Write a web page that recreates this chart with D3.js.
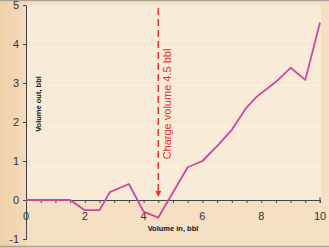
<!DOCTYPE html>
<html><head><meta charset="utf-8">
<script src="https://cdn.jsdelivr.net/npm/d3@7"></script>
<style>html,body{margin:0;padding:0;background:#f5e1c6;}svg{display:block;}</style>
</head><body>
<script>
const volumeIn  = [0, 1.5, 2.0, 2.5, 2.85, 3.5, 4.0, 4.5, 5.5, 6.0, 6.5, 7.0, 7.5, 7.85, 8.5, 9.0, 9.5, 10.0];
const volumeOut = [0, 0, -0.26, -0.26, 0.2, 0.41, -0.3, -0.45, 0.84, 1.0, 1.38, 1.8, 2.37, 2.65, 3.03, 3.39, 3.08, 4.55];
const xTicks = [0, 2, 4, 6, 8, 10];
const yTicks = [-1, 0, 1, 2, 3, 4, 5];
const chargeVolume = 4.5;
const chargeLabel = "Charge volume 4.5 bbl";
const xLabel = "Volume in, bbl";
const yLabel = "Volume out, bbl";

const W = 329, H = 248;
const svg = d3.select("body").append("svg").attr("width", W).attr("height", H);
const x = d3.scaleLinear().domain([0, 10]).range([26, 320]);
const y = d3.scaleLinear().domain([-1, 5]).range([239, 5]);

const defs = svg.append("defs");
const g1 = defs.append("linearGradient").attr("id", "lm").attr("x1", 0).attr("x2", 1);
g1.append("stop").attr("offset", 0).attr("stop-color", "#f0d0a9");
g1.append("stop").attr("offset", 1).attr("stop-color", "#f4dbbb");

svg.append("rect").attr("width", W).attr("height", H).attr("fill", "#f5e0c4");
svg.append("rect").attr("x", 0).attr("y", 0).attr("width", 26).attr("height", H).attr("fill", "url(#lm)");
svg.append("rect").attr("x", x(0)).attr("y", y(5)).attr("width", x(10) - x(0) + 1).attr("height", y(0) - y(5)).attr("fill", "#f8ecd9");

// faint grid
svg.append("g").selectAll("line").data([1, 2, 3, 4]).join("line")
  .attr("x1", x(0)).attr("x2", x(10)).attr("y1", d => y(d)).attr("y2", d => y(d))
  .attr("stroke", "#f4e3c8").attr("stroke-width", 1);

// frame lines
svg.append("line").attr("x1", 0).attr("x2", W).attr("y1", 0.5).attr("y2", 0.5).attr("stroke", "#a8a298").attr("stroke-width", 1.5);
svg.append("line").attr("x1", 0).attr("x2", W).attr("y1", 246.5).attr("y2", 246.5).attr("stroke", "#a8a298").attr("stroke-width", 1.5);

// axes
const xAxis = d3.axisBottom(x).tickValues(d3.range(0, 10.01, 0.5)).tickSize(3).tickFormat("");
const gx = svg.append("g").attr("transform", `translate(0,${y(0)})`).call(xAxis);
gx.select(".domain").attr("stroke", "#444");
gx.selectAll(".tick line").attr("stroke", "#444");
svg.append("line").attr("x1", x(10)).attr("x2", x(10)).attr("y1", y(0) - 3).attr("y2", y(0) + 3).attr("stroke", "#444");

svg.append("g").selectAll("text").data(xTicks).join("text")
  .attr("x", d => x(d)).attr("y", y(0) + 20)
  .attr("text-anchor", "middle").attr("font-family", "Liberation Sans, Arial, sans-serif")
  .attr("font-size", 11).attr("fill", "#333").text(d => d);

const yAxis = d3.axisLeft(y).tickValues(yTicks).tickSize(3).tickFormat("");
const gy = svg.append("g").attr("transform", `translate(${x(0)},0)`).call(yAxis);
gy.select(".domain").attr("stroke", "#444");
gy.selectAll(".tick line").attr("stroke", "#444");
svg.append("g").selectAll("text").data(yTicks).join("text")
  .attr("x", 19).attr("y", d => y(d) + 4)
  .attr("text-anchor", "end").attr("font-family", "Liberation Sans, Arial, sans-serif")
  .attr("font-size", 11).attr("fill", "#333").text(d => d);

// axis labels
svg.append("text").attr("x", 173).attr("y", 231).attr("text-anchor", "middle")
  .attr("font-family", "Liberation Sans, Arial, sans-serif").attr("font-size", 7.5).attr("font-weight", "bold")
  .attr("fill", "#111").text(xLabel);
svg.append("text").attr("transform", `translate(41,104) rotate(-90)`).attr("text-anchor", "middle")
  .attr("font-family", "Liberation Sans, Arial, sans-serif").attr("font-size", 7.5).attr("font-weight", "bold")
  .attr("fill", "#111").text(yLabel);

// charge volume marker
const cx = x(chargeVolume);
svg.append("line").attr("x1", cx).attr("x2", cx).attr("y1", 8).attr("y2", y(0) - 9)
  .attr("stroke", "#e8312b").attr("stroke-width", 1.5).attr("stroke-dasharray", "7,4");
svg.append("path").attr("d", `M${cx - 3},${y(0) - 9} L${cx + 3},${y(0) - 9} L${cx},${y(0) - 3} Z`).attr("fill", "#e8312b");
svg.append("text").attr("transform", `translate(${cx + 13},104) rotate(-90)`).attr("text-anchor", "middle")
  .attr("font-family", "Liberation Sans, Arial, sans-serif").attr("font-size", 11)
  .attr("fill", "#e8312b").text(chargeLabel);

// data line
const data = volumeIn.map((v, i) => [v, volumeOut[i]]);
svg.append("path").datum(data)
  .attr("d", d3.line().x(d => x(d[0])).y(d => y(d[1])))
  .attr("fill", "none").attr("stroke", "#d2459f").attr("stroke-width", 1.8).attr("stroke-linejoin", "round");
</script>
</body></html>
